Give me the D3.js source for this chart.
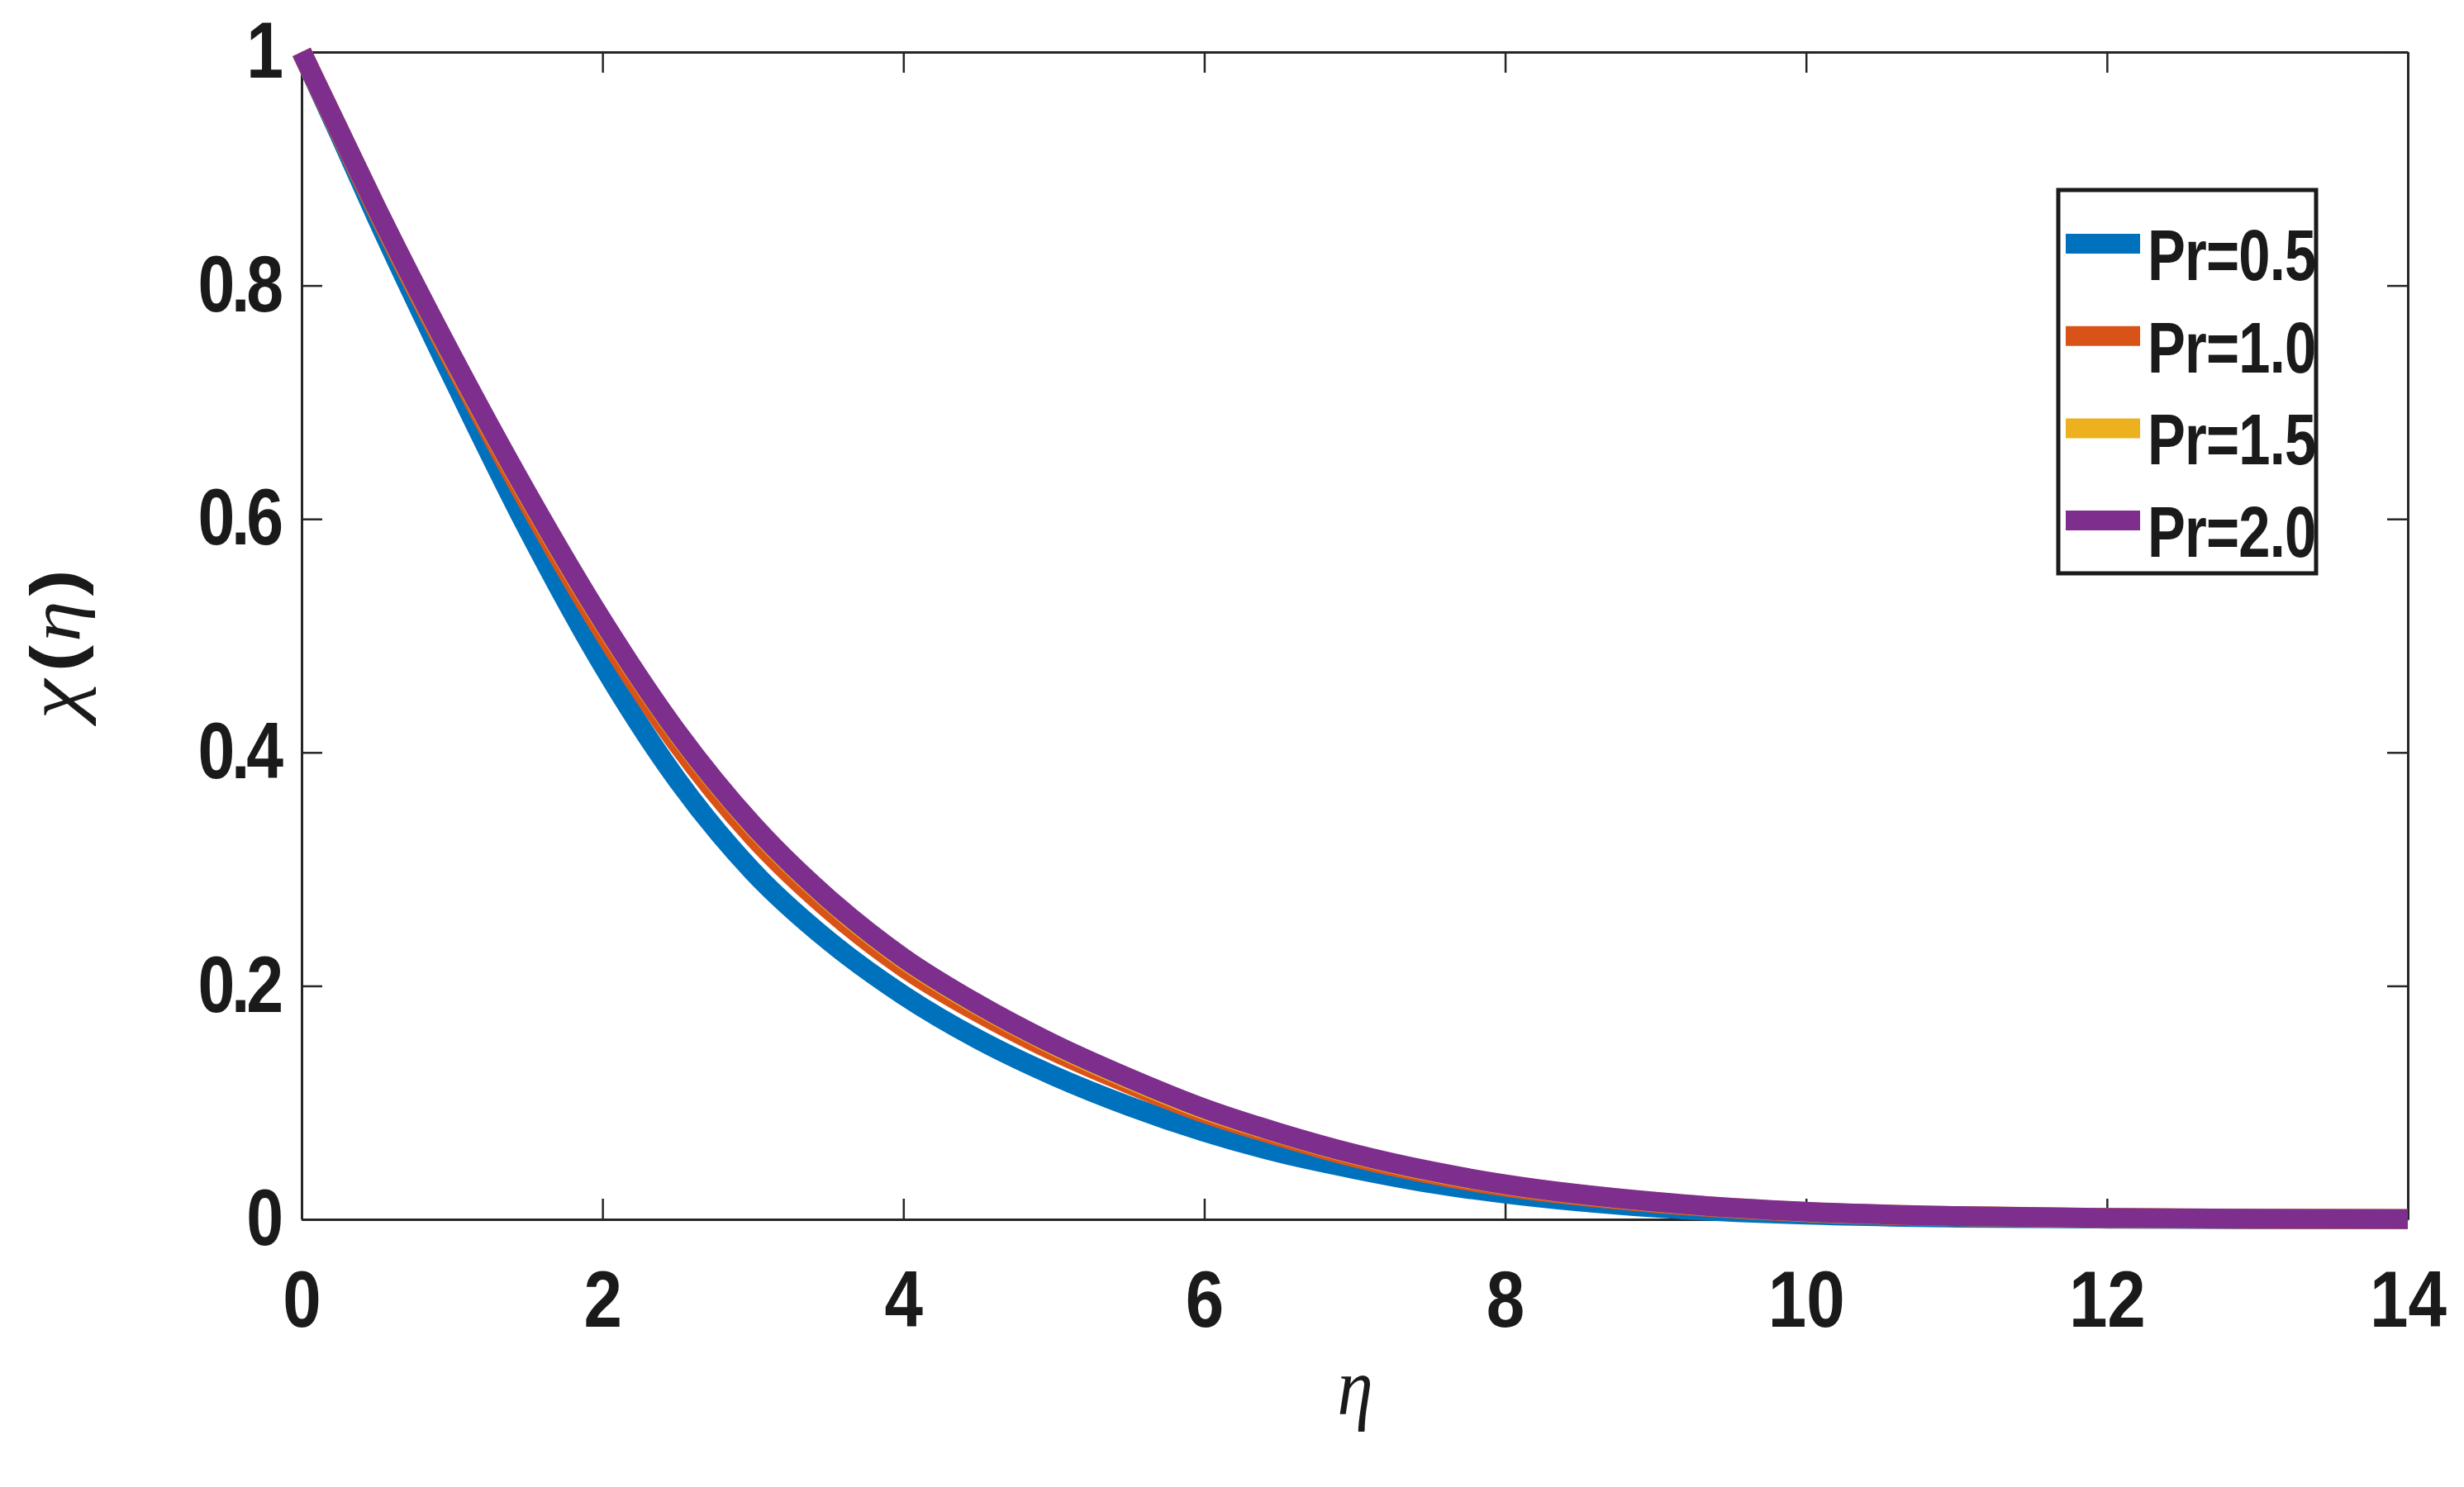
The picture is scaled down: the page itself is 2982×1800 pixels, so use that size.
<!DOCTYPE html>
<html>
<head>
<meta charset="utf-8">
<script src="https://cdn.jsdelivr.net/npm/d3@7"></script>
<style>
	body { margin: 0; background: #fff; }
	svg text { font-family: "Liberation Sans", Arial, sans-serif; font-weight: bold; fill: #1a1a1a; }
</style>
</head>
<body>
<svg id="chart" width="2982" height="1800"></svg>
<script>
// values
let eta = [0, 0.25, 0.5, 1, 1.5, 2, 2.5, 3, 3.5, 4, 4.5, 5, 5.5, 6, 6.5, 7, 7.5, 8, 9, 10, 11, 12, 13, 14];
let chiPr05 = [1.000, 0.930, 0.858, 0.722, 0.592, 0.475, 0.376, 0.298, 0.239, 0.192, 0.154, 0.123, 0.097, 0.075, 0.057, 0.043, 0.031, 0.022, 0.010, 0.004, 0.0015, 0.0006, 0.0002, 0.0001];
let chiPr10 = [1.000, 0.932, 0.864, 0.736, 0.615, 0.504, 0.407, 0.328, 0.266, 0.216, 0.177, 0.144, 0.116, 0.091, 0.071, 0.053, 0.039, 0.028, 0.014, 0.006, 0.0026, 0.0010, 0.0004, 0.0002];
let chiPr15 = [1.000, 0.933, 0.8655, 0.739, 0.621, 0.512, 0.416, 0.337, 0.274, 0.223, 0.183, 0.149, 0.120, 0.094, 0.0735, 0.0555, 0.041, 0.0297, 0.0148, 0.0064, 0.0028, 0.0012, 0.0005, 0.0002];
let chiPr20 = [1.000, 0.933, 0.866, 0.740, 0.622, 0.513, 0.417, 0.338, 0.275, 0.224, 0.184, 0.150, 0.121, 0.095, 0.074, 0.056, 0.0415, 0.030, 0.015, 0.0065, 0.0028, 0.0012, 0.0005, 0.0002];
let seriesNames = ['Pr=0.5', 'Pr=1.0', 'Pr=1.5', 'Pr=2.0'];
let xTicks = [0, 2, 4, 6, 8, 10, 12, 14];
let yTicks = [0, 0.2, 0.4, 0.6, 0.8, 1];
let yTickLabels = ['0', '0.2', '0.4', '0.6', '0.8', '1'];

let colors = ['#0072BD', '#D95319', '#EDB120', '#7E2F8E'];
let lineW = 24;
// text in the picture is narrower than the font
let squeezeX = 0.87;
let squeezeY = 0.84;
let squeezeLeg = 0.79;

let margin = { top: 63, right: 68, bottom: 324, left: 365 };
let width = 2982 - margin.left - margin.right;
let height = 1800 - margin.top - margin.bottom;

let svg = d3.select('svg#chart');
let g = svg.append('g').attr('transform', 'translate(' + margin.left + ',' + margin.top + ')');

let x = d3.scaleLinear([0, 14], [0, width]);
let y = d3.scaleLinear([0, 1], [height, 0]);

function styleAxis(a) {
	a.select('.domain').attr('stroke', '#262626').attr('stroke-width', 3);
	a.selectAll('.tick line').attr('stroke', '#262626').attr('stroke-width', 2.5);
	a.selectAll('text')
		.attr('font-size', 96)
		.attr('fill', '#1a1a1a')
		.attr('font-family', null);
}

// axes, box style with inward ticks
let xb = g.append('g').attr('transform', 'translate(0,' + height + ')')
	.call(d3.axisBottom(x).tickValues(xTicks).tickFormat(d3.format('d')).tickSize(-25).tickSizeOuter(0).tickPadding(62));
styleAxis(xb);
xb.selectAll('text').attr('transform', 'scale(' + squeezeX + ',1)');

let xt = g.append('g')
	.call(d3.axisTop(x).tickValues(xTicks).tickFormat('').tickSize(-25).tickSizeOuter(0));
styleAxis(xt);

let yl = g.append('g')
	.call(d3.axisLeft(y).tickValues(yTicks).tickFormat((d, i) => yTickLabels[i]).tickSize(-25).tickSizeOuter(0).tickPadding(31));
styleAxis(yl);
yl.selectAll('text')
	.attr('transform', 'scale(' + squeezeY + ',1)')
	.attr('letter-spacing', -5);

let yr = g.append('g').attr('transform', 'translate(' + width + ',0)')
	.call(d3.axisRight(y).tickValues(yTicks).tickFormat('').tickSize(-25).tickSizeOuter(0));
styleAxis(yr);

// curves
let data = [chiPr05, chiPr10, chiPr15, chiPr20];
let line = d3.line()
	.x((d, i) => x(eta[i]))
	.y(d => y(d))
	.curve(d3.curveMonotoneX);

g.append('g').selectAll('path.curve')
	.data(data)
	.join('path')
	.attr('class', 'curve')
	.attr('fill', 'none')
	.attr('stroke', (d, i) => colors[i])
	.attr('stroke-width', lineW)
	.attr('stroke-linejoin', 'round')
	.attr('stroke-linecap', 'butt')
	.attr('d', line);

// axis labels
let serif = '"Liberation Serif", "DejaVu Serif", serif';
svg.append('text')
	.attr('transform', 'translate(1640,1712) scale(' + squeezeX + ',1)')
	.attr('text-anchor', 'middle')
	.style('font-family', serif)
	.style('font-style', 'italic')
	.style('font-weight', 'normal')
	.attr('font-size', 100)
	.text('η');

let ylab = svg.append('text')
	.attr('transform', 'translate(96,780) rotate(-90) scale(1,' + squeezeX + ')')
	.attr('text-anchor', 'middle')
	.attr('font-size', 96);
ylab.append('tspan')
	.style('font-family', serif)
	.style('font-style', 'italic').style('font-weight', 'normal')
	.attr('font-size', 108)
	.text('χ');
ylab.append('tspan').attr('dx', 10).text('(');
ylab.append('tspan')
	.style('font-family', serif)
	.style('font-style', 'italic').style('font-weight', 'normal')
	.attr('font-size', 100)
	.attr('dx', 4)
	.text('η');
ylab.append('tspan').attr('dx', 6).text(')');

// legend
let legend = svg.append('g').attr('transform', 'translate(2491,230)');
legend.append('rect')
	.attr('width', 312)
	.attr('height', 464)
	.attr('fill', '#fff')
	.attr('stroke', '#1a1a1a')
	.attr('stroke-width', 5);

let rows = legend.selectAll('g.row')
	.data(seriesNames)
	.join('g')
	.attr('class', 'row')
	.attr('transform', (d, i) => 'translate(0,' + (65 + i * 111.7) + ')');
rows.append('line')
	.attr('x1', 9).attr('x2', 99)
	.attr('stroke', (d, i) => colors[i])
	.attr('stroke-width', lineW);
rows.append('text')
	.attr('transform', 'translate(108,44) scale(' + squeezeLeg + ',1)')
	.attr('font-size', 87)
	.attr('letter-spacing', -1)
	.text(d => d);
</script>
</body>
</html>
